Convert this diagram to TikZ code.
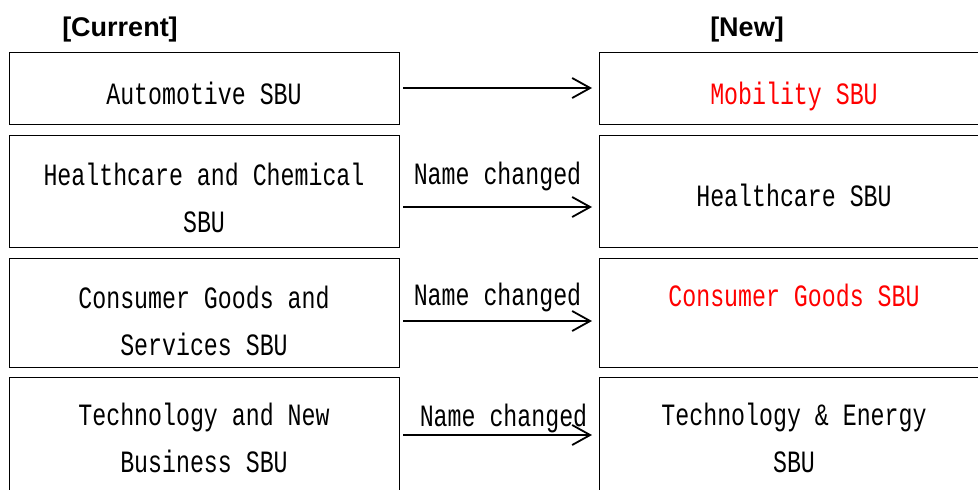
\documentclass[tikz,border=0pt]{standalone}
\usepackage{fontspec}
\newfontfamily\gothic[FakeStretch=0.75]{Liberation Mono}
\newfontfamily\headfont{Liberation Sans}
\usetikzlibrary{arrows.meta,positioning}

\begin{document}
\begin{tikzpicture}[>={Straight Barb[length=18pt,width=20pt]},
    box/.style={draw,line width=1pt,minimum width=390pt,inner sep=0pt,outer sep=0pt},
    txt/.style={font=\gothic\fontsize{31}{47}\selectfont,align=center,anchor=base,inner sep=0pt},
    nm/.style={font=\gothic\fontsize{31}{47}\selectfont,anchor=base,inner sep=0pt},
    chg/.style={->,line width=1.8pt},
    head/.style={font=\headfont\bfseries\fontsize{27}{30}\selectfont,anchor=base}]

  \useasboundingbox (0,0) rectangle (978pt,-490pt);
  \clip (0,0) rectangle (978pt,-490pt);

  % headings
  \node[head] (cur) at (120pt,-36pt) {[Current]};
  \node[head] (new) at (747pt,-36pt) {[New]};

  % current units
  \node[box,minimum height=72pt] (l1) at (204pt,-88pt) {};
  \node[box,minimum height=112pt,below=11pt of l1] (l2) {};
  \node[box,minimum height=109pt,below=11pt of l2] (l3) {};
  \node[box,minimum height=126pt,below=10pt of l3] (l4) {};

  % new units
  \node[box,minimum height=72pt,right=200pt of l1] (r1) {};
  \node[box,minimum height=112pt,right=200pt of l2] (r2) {};
  \node[box,minimum height=109pt,right=200pt of l3] (r3) {};
  \node[box,minimum height=126pt,right=200pt of l4] (r4) {};

  % base of a two-line text is its last line
  \node[txt] (tl1) at ([yshift=-52pt]l1.north) {Automotive SBU};
  \node[txt] (tl2) at ([yshift=-97pt]l2.north) {Healthcare and Chemical\\SBU};
  \node[txt] (tl3) at ([yshift=-97pt]l3.north) {Consumer Goods and\\Services SBU};
  \node[txt] (tl4) at ([yshift=-95pt]l4.north) {Technology and New\\Business SBU};

  \node[txt,text=red] (tr1) at ([yshift=-52pt]r1.north) {Mobility SBU};
  \node[txt] (tr2) at ([yshift=-71pt]r2.north) {Healthcare SBU};
  \node[txt,text=red] (tr3) at ([yshift=-48pt]r3.north) {Consumer Goods SBU};
  \node[txt] (tr4) at ([yshift=-95pt]r4.north) {Technology \& Energy\\SBU};

  \draw[chg] ([xshift=4pt]l1.east) -- ([xshift=-7pt]r1.west);
  \draw[chg] ([shift={(4pt,-16pt)}]l2.east) -- node[nm,yshift=23pt] (n2) {Name changed} ([shift={(-7pt,-16pt)}]r2.west);
  \draw[chg] ([shift={(4pt,-8.5pt)}]l3.east) -- node[nm,yshift=16pt] (n3) {Name changed} ([shift={(-7pt,-8.5pt)}]r3.west);
  \draw[chg] ([shift={(4pt,5pt)}]l4.east) -- node[nm,yshift=9pt,xshift=6pt] (n4) {Name changed} ([shift={(-7pt,5pt)}]r4.west);

\end{tikzpicture}
\end{document}
